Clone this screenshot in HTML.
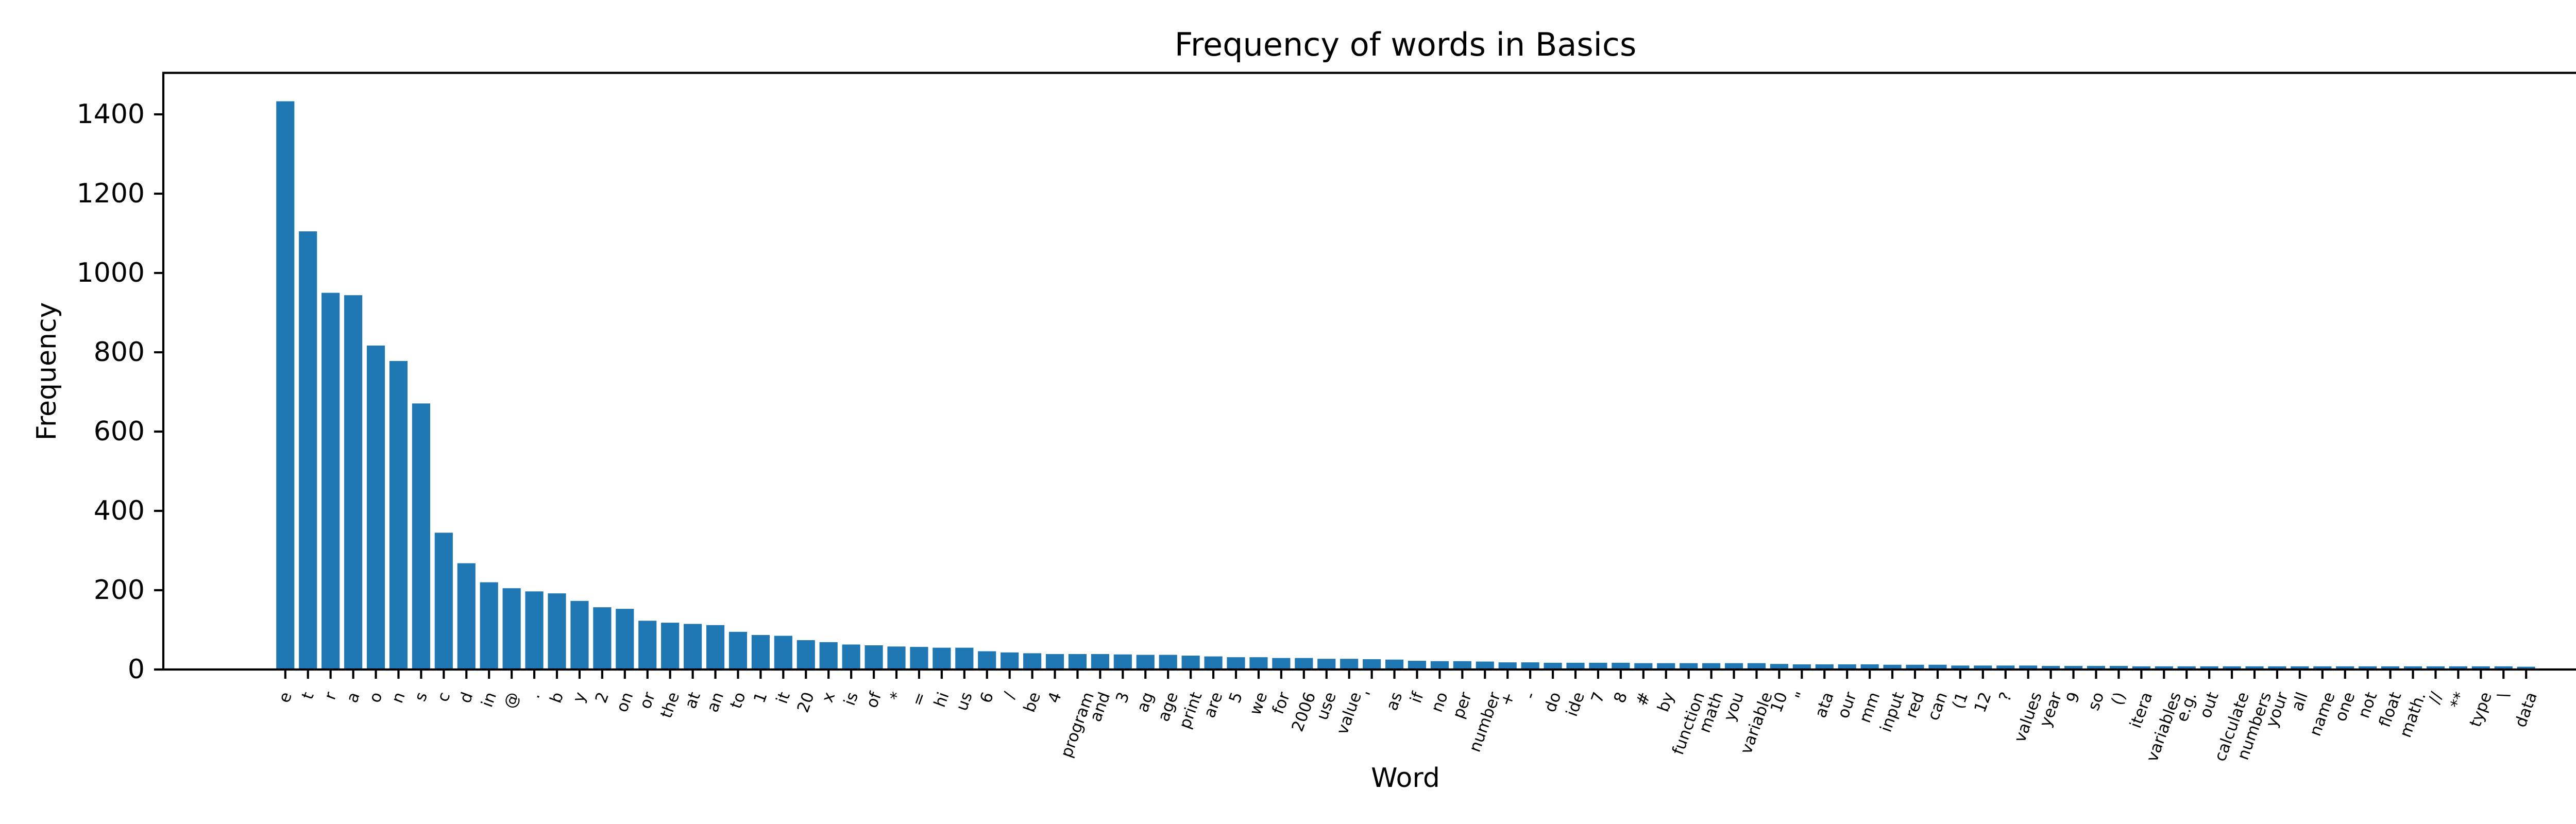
<!DOCTYPE html>
<html><head><meta charset="utf-8"><style>
html,body{margin:0;padding:0;background:#fff;}
svg{display:block;font-family:"DejaVu Sans","Liberation Sans",sans-serif;}
</style></head>
<body>
<svg id="chart" width="5200" height="1600" viewBox="0 0 5200 1600" xmlns="http://www.w3.org/2000/svg">
<rect x="0" y="0" width="5200" height="1600" fill="#fff"/>
<text x="2728" y="108" font-size="62" text-anchor="middle">Frequency of words in Basics</text>
<text x="0" y="0" font-size="52" text-anchor="middle" transform="translate(108,721) rotate(-90)">Frequency</text>
<text x="2728" y="1528" font-size="52" text-anchor="middle">Word</text>
<g id="bars"></g>
<g id="xticks"></g>
<g id="yticks"></g>
<rect x="317" y="141.5" width="4823" height="1158.5" fill="none" stroke="#000" stroke-width="4.2"/>
</svg>
<script>
const categories = ["e","t","r","a","o","n","s","c","d","in","@",".","b","y","2","on","or","the","at","an","to","1","it","20","x","is","of","*","=","hi","us","6","/","be","4","program","and","3","ag","age","print","are","5","we","for","2006","use","value","'","as","if","no","per","number","+","-","do","ide","7","8","#","by","function","math","you","variable","10","\"","ata","our","mm","input","red","can","(1","12","?","values","year","9","so","()","itera","variables","e.g.","out","calculate","numbers","your","all","name","one","not","float","math.","//","**","type","\\","data"];
const frequencies = [1433,1105,950,944,817,778,671,345,268,220,205,197,192,173,157,153,123,118,115,112,95,87,85,74,69,63,61,58,57,55,55,46,43,41,39,39,39,38,37,37,35,33,31,31,29,29,27,27,26,25,22,21,21,20,18,18,17,17,17,17,16,16,16,16,16,16,14,13,13,13,13,12,12,12,10,10,10,10,9,9,9,9,8,8,8,8,8,8,8,8,8,8,8,8,8,8,8,8,8,7];
const yTicks = [0,200,400,600,800,1000,1200,1400];

const NS = "http://www.w3.org/2000/svg";
const plotL = 317, plotR = 5140, plotT = 141.5, plotB = 1300;
const n = categories.length;
const xMin = -0.4 - 0.05 * (n - 1 + 0.8), xMax = n - 1 + 0.4 + 0.05 * (n - 1 + 0.8);
const yMax = 1.05 * Math.max(...frequencies);
function xScale(i){ return plotL + (i - xMin) / (xMax - xMin) * (plotR - plotL); }
function yScale(v){ return plotB - v / yMax * (plotB - plotT); }
const bw = 0.8 * (xScale(1) - xScale(0));

const barsG = document.getElementById('bars');
const xt = document.getElementById('xticks');
const yt = document.getElementById('yticks');

categories.forEach((c, i) => {
  const cx = xScale(i);
  const r = document.createElementNS(NS, 'rect');
  
  
  r.setAttribute('x', cx - bw / 2);
  r.setAttribute('y', yScale(frequencies[i]));
  r.setAttribute('width', bw);
  r.setAttribute('height', plotB - yScale(frequencies[i]));
  r.setAttribute('fill', '#1f77b4');
  barsG.appendChild(r);

  const tk = document.createElementNS(NS, 'line');
  
  
  tk.setAttribute('x1', cx); tk.setAttribute('x2', cx);
  tk.setAttribute('y1', plotB); tk.setAttribute('y2', plotB + 18);
  tk.setAttribute('stroke', '#000'); tk.setAttribute('stroke-width', '4.2');
  xt.appendChild(tk);

  const t = document.createElementNS(NS, 'text');
  
  
  t.setAttribute('font-size', '31');
  t.textContent = c;
  xt.appendChild(t);
  // measure and place: rotated 70deg, bbox centered at tick, top at 1340
  const w = t.getComputedTextLength();
  const h = 31 * 1.0;
  const a = 70 * Math.PI / 180;
  const bbH = w * Math.sin(a) + h * Math.cos(a);
  const cy = 1340 + bbH / 2;
  t.setAttribute('text-anchor', 'middle');
  t.setAttribute('dominant-baseline', 'central');
  t.setAttribute('transform', 'translate(' + cx + ',' + cy + ') rotate(-70)');
});

yTicks.forEach(v => {
  const y = yScale(v);
  const tk = document.createElementNS(NS, 'line');
  
  
  tk.setAttribute('x1', plotL - 18); tk.setAttribute('x2', plotL);
  tk.setAttribute('y1', y); tk.setAttribute('y2', y);
  tk.setAttribute('stroke', '#000'); tk.setAttribute('stroke-width', '4.2');
  yt.appendChild(tk);
  const t = document.createElementNS(NS, 'text');
  
  
  t.setAttribute('x', plotL - 36);
  t.setAttribute('y', y);
  t.setAttribute('font-size', '52');
  t.setAttribute('text-anchor', 'end');
  t.setAttribute('dominant-baseline', 'central');
  t.textContent = v;
  yt.appendChild(t);
});
</script>
</body></html>
